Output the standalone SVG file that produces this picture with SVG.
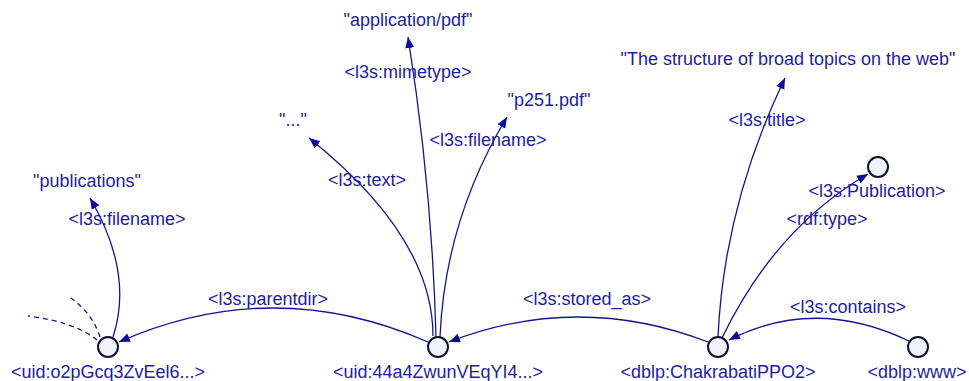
<svg xmlns="http://www.w3.org/2000/svg" width="969" height="381" viewBox="0 0 969 381">
  <style>
    .edge { fill: none; stroke: #14148e; stroke-width: 1.3; }
    .dash { fill: none; stroke: #14148e; stroke-width: 1.3; stroke-dasharray: 5 4; }
    .arrow { marker-end: url(#head); }
    .node { fill: #f2f2fa; stroke: #0e0e2e; stroke-width: 2; }
    text { font-family: "Liberation Sans", Arial, sans-serif; font-size: 18px; fill: #1e1e9c; text-anchor: middle; }
  </style>
  <defs>
    <marker id="head" markerUnits="userSpaceOnUse" markerWidth="12" markerHeight="10" refX="11" refY="4.5" orient="auto">
      <path d="M0,0 L11,4.5 L0,9 z" fill="#0c0c9c"/>
    </marker>
  </defs>

  <rect width="969" height="381" fill="#ffffff"/>

  <!-- connectors -->
  <g id="edges">
    <path class="dash" d="M100,337 Q92,312 68,296"/>
    <path class="dash" d="M97,340 Q75,322 28,316"/>
    <path class="edge arrow" d="M113,337 Q134,273 90,198"/>
    <path class="edge arrow" d="M428,342 Q273,274 119,342"/>
    <path class="edge arrow" d="M433,336 Q433,237 309,138"/>
    <path class="edge arrow" d="M436,337 Q432,187 408,37"/>
    <path class="edge arrow" d="M440,337 Q445,220 507,117"/>
    <path class="edge arrow" d="M708,342 Q578,292 449,342"/>
    <path class="edge arrow" d="M718,337 Q724,205 785,78"/>
    <path class="edge arrow" d="M722,338 Q775,228 868,174"/>
    <path class="edge arrow" d="M909,341 Q815,296 729,340"/>
  </g>

  <!-- edge labels -->
  <g id="edge-labels">
    <text x="127" y="225">&lt;l3s:filename&gt;</text>
    <text x="268" y="305">&lt;l3s:parentdir&gt;</text>
    <text x="367" y="186">&lt;l3s:text&gt;</text>
    <text x="408" y="78">&lt;l3s:mimetype&gt;</text>
    <text x="488" y="146">&lt;l3s:filename&gt;</text>
    <text x="587" y="305">&lt;l3s:stored_as&gt;</text>
    <text x="767" y="126">&lt;l3s:title&gt;</text>
    <text x="827" y="225">&lt;rdf:type&gt;</text>
    <text x="848" y="313">&lt;l3s:contains&gt;</text>
  </g>

  <!-- literal nodes -->
  <g id="lit-publications"><text x="87" y="187">"publications"</text></g>
  <g id="lit-dots"><text x="293" y="126">"..."</text></g>
  <g id="lit-mimetype"><text x="408" y="26">"application/pdf"</text></g>
  <g id="lit-filename"><text x="549" y="106">"p251.pdf"</text></g>
  <g id="lit-title"><text x="788" y="65">"The structure of broad topics on the web"</text></g>

  <!-- resource nodes -->
  <g id="node-dir">
    <circle class="node" cx="108" cy="347" r="10"/>
    <text x="108" y="378">&lt;uid:o2pGcq3ZvEel6...&gt;</text>
  </g>
  <g id="node-file">
    <circle class="node" cx="438" cy="347" r="10"/>
    <text x="438" y="378">&lt;uid:44a4ZwunVEqYI4...&gt;</text>
  </g>
  <g id="node-paper">
    <circle class="node" cx="718" cy="347" r="10"/>
    <text x="718" y="378">&lt;dblp:ChakrabatiPPO2&gt;</text>
  </g>
  <g id="node-www">
    <circle class="node" cx="918" cy="347" r="10"/>
    <text x="917" y="378">&lt;dblp:www&gt;</text>
  </g>
  <g id="node-publication">
    <circle class="node" cx="878" cy="167" r="10"/>
    <text x="877" y="197">&lt;l3s:Publication&gt;</text>
  </g>
</svg>
